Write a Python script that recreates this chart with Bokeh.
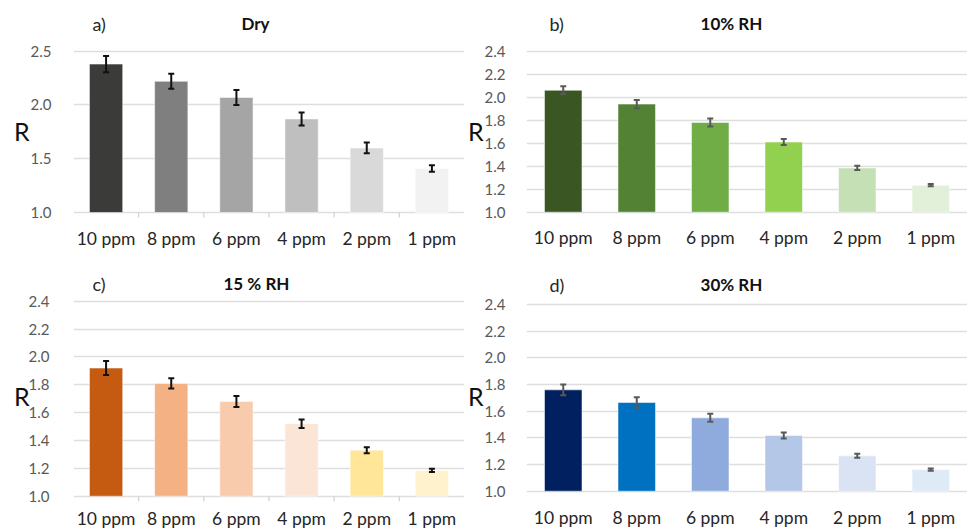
from bokeh.plotting import figure
from bokeh.models import (ColumnDataSource, Range1d, FactorRange, FixedTicker,
                          PrintfTickFormatter, Whisker, TeeHead)
from bokeh.core.properties import value
from bokeh.layouts import gridplot
from bokeh.embed import file_html
from bokeh.resources import INLINE

categories = ["10 ppm", "8 ppm", "6 ppm", "4 ppm", "2 ppm", "1 ppm"]

dry = [2.38, 2.22, 2.07, 1.87, 1.60, 1.41]
dry_err = [0.075, 0.07, 0.07, 0.06, 0.05, 0.03]
rh10 = [2.06, 1.94, 1.78, 1.61, 1.385, 1.235]
rh10_err = [0.035, 0.035, 0.034, 0.026, 0.018, 0.01]
rh15 = [1.92, 1.81, 1.68, 1.52, 1.33, 1.185]
rh15_err = [0.05, 0.036, 0.04, 0.031, 0.022, 0.012]
rh30 = [1.76, 1.665, 1.55, 1.418, 1.265, 1.162]
rh30_err = [0.04, 0.04, 0.03, 0.022, 0.015, 0.008]

colors_dry = ["#3b3b3a", "#7f7f7f", "#a5a5a5", "#bfbfbf", "#d9d9d9", "#f2f2f2"]
colors_10 = ["#3a5723", "#548235", "#70ad47", "#92d050", "#c5e0b4", "#e2f0d9"]
colors_15 = ["#c55a11", "#f4b183", "#f8cbad", "#fbe5d6", "#ffe699", "#fff2cc"]
colors_30 = ["#002060", "#0070c0", "#8faadc", "#b4c7e7", "#dae3f3", "#deebf7"]

yticks_a = [1.0, 1.5, 2.0, 2.5]
yticks_b = [1.0, 1.2, 1.4, 1.6, 1.8, 2.0, 2.2, 2.4]

panel_tags = ["a)", "b)", "c)", "d)"]
panel_titles = ["Dry", "10% RH", "15 % RH", "30% RH"]

FONT = "Lato"


def panel(values, errs, colors, yticks, tag, title, w, h, bl,
          grid_top_px, grid_bot_px, tick_standoff, lab_standoff,
          err_color, head, tag_dx, title_dx, title_px, cat_px, between_ticks):
    # the frame spans the whole figure height; pixel geometry -> data range
    top_tick = yticks[-1]
    u = (top_tick - 1.0) / (grid_bot_px - grid_top_px)
    y0 = 1.0 - (h - grid_bot_px) * u
    y1 = 1.0 + grid_bot_px * u

    src = ColumnDataSource(dict(cat=categories, top=values, color=colors,
                                upper=[v + e for v, e in zip(values, errs)],
                                lower=[v - e for v, e in zip(values, errs)]))
    p = figure(width=w, height=h, x_range=FactorRange(*categories),
               y_range=Range1d(y0, y1), output_backend="svg",
               toolbar_location=None, min_border_left=bl, min_border_right=0,
               min_border_top=0, min_border_bottom=0)
    p.outline_line_color = None
    p.background_fill_color = "white"
    p.vbar(x="cat", top="top", bottom=1.0, width=0.51, fill_color="color",
           line_color="white", line_alpha=0.5, line_width=1, source=src)
    wk = Whisker(base="cat", upper="upper", lower="lower", source=src,
                 dimension="height", line_color=err_color, line_width=2,
                 level="overlay",
                 upper_head=TeeHead(size=head, line_color=err_color, line_width=2),
                 lower_head=TeeHead(size=head, line_color=err_color, line_width=2))
    p.add_layout(wk)

    if between_ticks:
        # small category-separator tick marks under the baseline
        bounds = list(range(1, len(categories)))
        p.segment(x0=bounds, x1=bounds, y0=[1.0] * len(bounds),
                  y1=[1.0 - 5 * u] * len(bounds), line_color="#d0d0d0",
                  line_width=1.2)

    p.xaxis.visible = False
    p.xgrid.grid_line_color = None
    p.ygrid.grid_line_color = "#dedede"
    p.ygrid.grid_line_width = 1.5
    p.yaxis.ticker = FixedTicker(ticks=yticks)
    p.yaxis.formatter = PrintfTickFormatter(format="%.1f")
    p.yaxis.axis_line_color = None
    p.yaxis.major_tick_line_color = None
    p.yaxis.minor_tick_line_color = None
    p.yaxis.major_label_text_font = FONT
    p.yaxis.major_label_text_font_size = "15px"
    p.yaxis.major_label_text_color = "#595959"
    p.yaxis.major_label_standoff = tick_standoff
    p.yaxis.axis_label = "R"
    p.yaxis.axis_label_orientation = "horizontal"
    p.yaxis.axis_label_text_font = FONT
    p.yaxis.axis_label_text_font_style = "normal"
    p.yaxis.axis_label_text_font_size = "25px"
    p.yaxis.axis_label_text_color = "#111111"
    p.yaxis.axis_label_standoff = lab_standoff

    # category labels (drawn under the baseline, inside the frame)
    ycat = 1.0 - (cat_px - grid_bot_px) * u
    p.text(x=categories, y=[ycat] * len(categories), text=categories,
           text_font=value(FONT), text_font_size="17.5px", text_color="#262626",
           text_baseline="middle", text_align="center")

    ylab = 1.0 + (grid_bot_px - title_px) * u
    p.text(x=[categories[0]], y=[ylab], text=[tag], x_offset=tag_dx,
           text_font=value(FONT), text_font_size="18px", text_color="#262626",
           text_baseline="middle", text_align="left")
    p.text(x=[categories[0]], y=[ylab], text=[title], x_offset=title_dx,
           text_font=value(FONT), text_font_size="17px",
           text_font_style="bold", text_color="#111111",
           text_baseline="middle", text_align="center")
    return p


pa = panel(dry, dry_err, colors_dry, yticks_a, panel_tags[0], panel_titles[0],
           464, 260, 73, 50.7, 212, 16, -2, "#111111", 6, -13.6, 149.4, 23, 238,
           True)
pb = panel(rh10, rh10_err, colors_10, yticks_b, panel_tags[1], panel_titles[1],
           503, 260, 61, 50.7, 211.7, 15, -2, "#595959", 6, -13.8, 168.2, 23, 237,
           False)
pc = panel(rh15, rh15_err, colors_15, yticks_b, panel_tags[2], panel_titles[2],
           464, 270, 73, 40.7, 235.7, 18, -4, "#111111", 6, -13.6, 150.4, 23, 258,
           True)
pd = panel(rh30, rh30_err, colors_30, yticks_b, panel_tags[3], panel_titles[3],
           503, 270, 61, 44, 230.7, 15, -2, "#595959", 6, -13.8, 168.2, 24, 256.7,
           False)

grid = gridplot([[pa, pb], [pc, pd]], toolbar_location=None)

open("out.html", "w").write(file_html(grid, INLINE))
